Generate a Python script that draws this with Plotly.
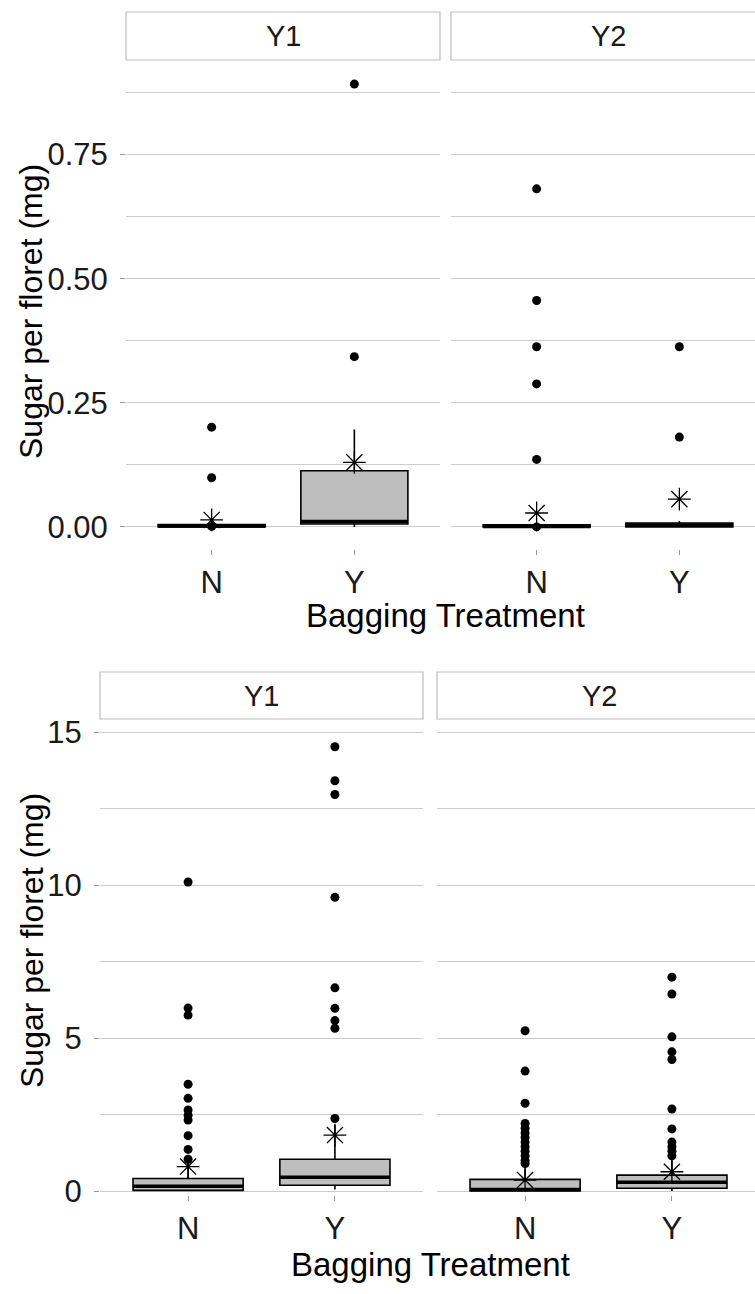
import plotly.graph_objects as go

W, H = 755, 1294

cats = ["N", "Y"]
cat_pos = [1, 2]

# ---- Top chart (per-floret values, mg) ----
top_Y1_q1 = [0.0, 0.006]
top_Y1_med = [0.002, 0.011]
top_Y1_q3 = [0.005, 0.113]
top_Y1_low = [0.0, 0.0]
top_Y1_up = [0.005, 0.196]
top_Y1_mean = [0.014, 0.130]
top_Y1_out_N = [0.201, 0.099, 0.001]
top_Y1_out_Y = [0.343, 0.892]

top_Y2_q1 = [0.0, 0.0]
top_Y2_med = [0.001, 0.004]
top_Y2_q3 = [0.004, 0.008]
top_Y2_low = [0.0, 0.0]
top_Y2_up = [0.004, 0.012]
top_Y2_mean = [0.028, 0.056]
top_Y2_out_N = [0.681, 0.456, 0.363, 0.288, 0.136, 0.0]
top_Y2_out_Y = [0.363, 0.181]

# ---- Bottom chart ----
bot_Y1_q1 = [0.02, 0.19]
bot_Y1_med = [0.16, 0.45]
bot_Y1_q3 = [0.41, 1.04]
bot_Y1_low = [0.0, 0.05]
bot_Y1_up = [0.98, 2.16]
bot_Y1_mean = [0.80, 1.83]
bot_Y1_out_N = [10.1, 5.98, 5.75, 3.49, 3.03, 2.65, 2.48, 2.32, 1.81, 1.36, 1.04]
bot_Y1_out_Y = [14.52, 13.41, 12.96, 9.6, 6.64, 5.97, 5.57, 5.32, 2.37]

bot_Y2_q1 = [0.0, 0.09]
bot_Y2_med = [0.05, 0.29]
bot_Y2_q3 = [0.38, 0.52]
bot_Y2_low = [0.0, 0.0]
bot_Y2_up = [0.80, 1.05]
bot_Y2_mean = [0.36, 0.63]
bot_Y2_out_N = [5.24, 3.92, 2.87, 2.21, 2.05, 1.9, 1.75, 1.6, 1.45, 1.3, 1.15, 1.0, 0.9]
bot_Y2_out_Y = [6.99, 6.44, 5.04, 4.55, 4.3, 2.68, 2.03, 1.6, 1.45, 1.3, 1.15]

BOX_W = 0.75
FONT = "Liberation Sans, Arial, sans-serif"
GRID = "#cccccc"


def px_x(p):
    return p / W


def px_y(p):
    return 1 - p / H


fig = go.Figure()


def add_panel(xa, ya, q1, med, q3, low, up, mean, outN, outY):
    fig.add_trace(go.Box(
        x=cat_pos, q1=q1, median=med, q3=q3, lowerfence=low, upperfence=up,
        width=BOX_W, whiskerwidth=0, fillcolor="#bebebe",
        line=dict(color="black", width=1.6), boxpoints=False,
        xaxis=xa, yaxis=ya, hoverinfo="skip"))
    # thick median line
    mx, my = [], []
    for p, m in zip(cat_pos, med):
        mx += [p - BOX_W / 2, p + BOX_W / 2, None]
        my += [m, m, None]
    fig.add_trace(go.Scatter(x=mx, y=my, mode="lines",
                             line=dict(color="black", width=3.5),
                             xaxis=xa, yaxis=ya, hoverinfo="skip"))
    # outliers
    ox = [cat_pos[0]] * len(outN) + [cat_pos[1]] * len(outY)
    oy = list(outN) + list(outY)
    fig.add_trace(go.Scatter(x=ox, y=oy, mode="markers",
                             marker=dict(color="black", size=9),
                             xaxis=xa, yaxis=ya, hoverinfo="skip"))
    # means
    fig.add_trace(go.Scatter(x=cat_pos, y=mean, mode="markers",
                             marker=dict(symbol="asterisk-open", size=19,
                                         color="black",
                                         line=dict(color="black", width=1.3)),
                             xaxis=xa, yaxis=ya, hoverinfo="skip"))


add_panel("x", "y", top_Y1_q1, top_Y1_med, top_Y1_q3, top_Y1_low, top_Y1_up,
          top_Y1_mean, top_Y1_out_N, top_Y1_out_Y)
add_panel("x2", "y2", top_Y2_q1, top_Y2_med, top_Y2_q3, top_Y2_low, top_Y2_up,
          top_Y2_mean, top_Y2_out_N, top_Y2_out_Y)
add_panel("x3", "y3", bot_Y1_q1, bot_Y1_med, bot_Y1_q3, bot_Y1_low, bot_Y1_up,
          bot_Y1_mean, bot_Y1_out_N, bot_Y1_out_Y)
add_panel("x4", "y4", bot_Y2_q1, bot_Y2_med, bot_Y2_q3, bot_Y2_low, bot_Y2_up,
          bot_Y2_mean, bot_Y2_out_N, bot_Y2_out_Y)

tickfont = dict(family=FONT, size=31, color="#1a1a1a")


def xaxis(dom, rng, anchor):
    return dict(domain=dom, range=rng, anchor=anchor, tickvals=cat_pos,
                ticktext=cats, showgrid=False, zeroline=False, showline=False,
                ticks="outside", ticklen=5, tickcolor="#999999", tickwidth=1,
                tickfont=tickfont, ticklabelstandoff=1, fixedrange=True)


def yaxis(dom, rng, anchor, dtick, minor, labels):
    return dict(domain=dom, range=rng, anchor=anchor, dtick=dtick, tick0=0,
                showgrid=True, gridcolor=GRID, gridwidth=1.2, zeroline=False,
                showline=False, ticks="outside" if labels else "",
                ticklen=5, tickcolor="#999999",
                showticklabels=labels, tickfont=tickfont,
                ticklabelstandoff=6,
                tickformat=".2f" if dtick < 1 else "d",
                minor=dict(dtick=minor, tick0=0, showgrid=True,
                           gridcolor=GRID, gridwidth=1.2),
                fixedrange=True)


top_ydom = [px_y(549), px_y(63)]
top_yr = [-0.0445, 0.9345]
bot_ydom = [px_y(1195), px_y(722)]
bot_yr = [-0.13, 15.33]

fig.update_layout(
    width=W, height=H, margin=dict(l=0, r=0, t=0, b=0, pad=0, autoexpand=False),
    paper_bgcolor="white", plot_bgcolor="white", showlegend=False,
    xaxis=xaxis([px_x(126), px_x(440)], [0.4, 2.6], "y"),
    xaxis2=xaxis([px_x(451), 1.0], [0.4, 2.530], "y2"),
    xaxis3=xaxis([px_x(100), px_x(423)], [0.4, 2.6], "y3"),
    xaxis4=xaxis([px_x(437), 1.0], [0.4, 2.566], "y4"),
    yaxis=yaxis(top_ydom, top_yr, "x", 0.25, 0.125, True),
    yaxis2=yaxis(top_ydom, top_yr, "x2", 0.25, 0.125, False),
    yaxis3=yaxis(bot_ydom, bot_yr, "x3", 5, 2.5, True),
    yaxis4=yaxis(bot_ydom, bot_yr, "x4", 5, 2.5, False),
)

# strips
strips = [
    (126, 440, 12, 60, "Y1"),
    (451, 765, 12, 60, "Y2"),
    (100, 423, 672, 719, "Y1"),
    (437, 761, 672, 719, "Y2"),
]
for x0, x1, y0, y1, label in strips:
    fig.add_shape(type="rect", xref="paper", yref="paper",
                  x0=px_x(x0), x1=px_x(x1), y0=px_y(y1), y1=px_y(y0),
                  line=dict(color="#bdbdbd", width=1.2), fillcolor="white",
                  layer="below")
    fig.add_annotation(xref="paper", yref="paper",
                       x=px_x((x0 + x1) / 2),
                       y=px_y((y0 + y1) / 2), text=label, showarrow=False,
                       font=dict(family=FONT, size=29, color="#1a1a1a"),
                       xanchor="center", yanchor="middle")

xtitlefont = dict(family=FONT, size=33, color="black")
ytitlefont = dict(family=FONT, size=32, color="black")
# axis titles
fig.add_annotation(xref="paper", yref="paper", x=px_x(445), y=px_y(615),
                   text="Bagging Treatment", showarrow=False, font=xtitlefont,
                   xanchor="center", yanchor="middle")
fig.add_annotation(xref="paper", yref="paper", x=px_x(430), y=px_y(1264),
                   text="Bagging Treatment", showarrow=False, font=xtitlefont,
                   xanchor="center", yanchor="middle")
fig.add_annotation(xref="paper", yref="paper", x=px_x(31), y=px_y(312),
                   text="Sugar per floret (mg)", showarrow=False, font=ytitlefont,
                   textangle=-90, xanchor="center", yanchor="middle")
fig.add_annotation(xref="paper", yref="paper", x=px_x(32), y=px_y(941),
                   text="Sugar per floret (mg)", showarrow=False, font=ytitlefont,
                   textangle=-90, xanchor="center", yanchor="middle")

fig.write_html("out.html", config={"displayModeBar": False},
               post_script="document.body.style.margin='0';"
                           "document.body.style.overflow='hidden';")
